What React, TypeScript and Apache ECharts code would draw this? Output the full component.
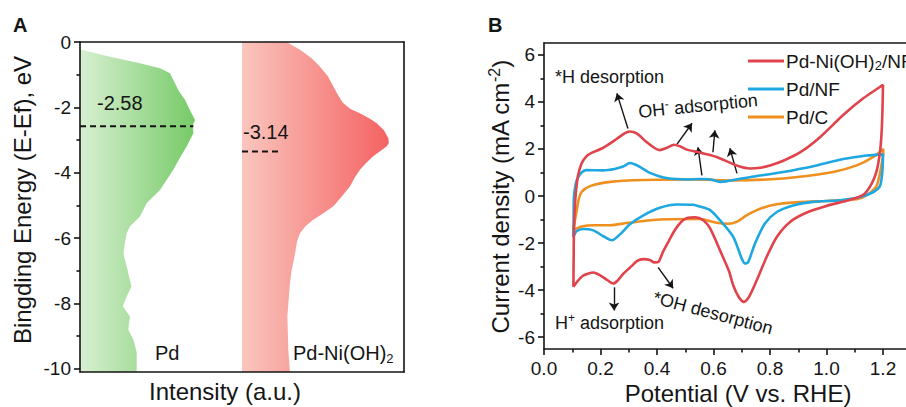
import React, { useEffect, useRef } from 'react';
import * as echarts from 'echarts';

const FONT = '"Liberation Sans", Arial, Helvetica, sans-serif';
const INK = '#151515';

// ---------- Panel A: DOS-like shapes (intensity a.u. vs binding energy eV) ----------
const dosTicks = [0, -2, -4, -6, -8, -10];
const dosMinorTicks = [-1, -3, -5, -7, -9];

const pdEnergy = [-0.21, -0.24, -0.45, -0.63, -0.8, -0.96, -1.16, -1.5, -1.77, -2.1, -2.39, -2.55, -2.79, -3.2, -3.55, -3.91, -4.53, -4.93, -5.34, -5.65, -5.85, -6.2, -6.46, -6.87, -7.2, -7.48, -7.79, -8.09, -8.4, -8.81, -9.11, -9.5, -10.1];
const pdIntensity = [0, 0.5, 9.2, 17.5, 24.7, 27.8, 28.8, 30.5, 32.4, 34, 35.5, 34.8, 35, 32.9, 30.8, 28.8, 24.7, 20.6, 18.5, 15.4, 14.4, 13.8, 13.4, 14.4, 15.2, 15.9, 14.4, 13.2, 15.4, 14.9, 16.5, 17.5, 17.5];
const pdBase = 0;

const pdniEnergy = [0, -0.1, -0.24, -0.5, -0.75, -1.05, -1.36, -1.65, -1.87, -2.05, -2.18, -2.35, -2.49, -2.7, -2.95, -3.1, -3.2, -3.35, -3.5, -3.7, -3.91, -4.15, -4.42, -4.75, -5.03, -5.25, -5.44, -5.65, -5.85, -6.1, -6.46, -7.0, -7.38, -8.4, -9.42, -10.1];
const pdniIntensity = [63.8, 65.5, 67.9, 71.5, 74, 76.5, 78.2, 79.8, 81.2, 83.5, 86.4, 89.5, 91.6, 93.8, 95.2, 95.3, 94.6, 92.5, 90.5, 88.3, 86.4, 84.8, 83.3, 80.6, 78.2, 75, 72, 69.5, 67.9, 67, 66.4, 65.3, 64.8, 64, 64.3, 64.8];
const pdniBase = 50;

const pdCenterLine: [number, number][] = [[0, -2.58], [35, -2.58]];
const pdniCenterLine: [number, number][] = [[50, -3.35], [62, -3.35]];
const pdCenterLabel = '-2.58';
const pdniCenterLabel = '-3.14';

// ---------- Panel B: CV curves (potential V vs RHE, current density mA cm-2) ----------
const potentialTicks = [0, 0.2, 0.4, 0.6, 0.8, 1.0, 1.2];
const potentialMinorTicks = [0.1, 0.3, 0.5, 0.7, 0.9, 1.1];
const currentTicks = [-6, -4, -2, 0, 2, 4, 6];
const currentMinorTicks = [-5, -3, -1, 1, 3, 5];

const seriesNames = ['Pd-Ni(OH)2/NF', 'Pd/NF', 'Pd/C'];

const pdNiOH2NF: [number, number][] = [
  [0.104, -3.86], [0.105, -2.6], [0.106, -1.46], [0.11, -0.3], [0.115, 0.4], [0.121, 0.9], [0.133, 1.38], [0.15, 1.68], [0.17, 1.84], [0.21, 2.05],
  [0.257, 2.42], [0.285, 2.66], [0.303, 2.74], [0.328, 2.66], [0.363, 2.29], [0.39, 2.05], [0.41, 1.95], [0.435, 2.05], [0.46, 2.18], [0.48, 2.12],
  [0.505, 1.97], [0.552, 1.85], [0.611, 1.66], [0.652, 1.45], [0.69, 1.26], [0.729, 1.17], [0.765, 1.2], [0.8, 1.3], [0.847, 1.5], [0.906, 1.85],
  [0.977, 2.5], [1.06, 3.45], [1.13, 4.15], [1.185, 4.6], [1.2, 4.72], [1.198, 3.6], [1.195, 2.7], [1.19, 1.94], [1.178, 1.09], [1.16, 0.53],
  [1.13, 0.05], [1.071, -0.2], [1.0, -0.42], [0.93, -0.7], [0.871, -1.1], [0.824, -1.74], [0.788, -2.59], [0.753, -3.58], [0.725, -4.3], [0.708, -4.5],
  [0.69, -4.3], [0.67, -3.8], [0.655, -3.2], [0.623, -2.31], [0.588, -1.38], [0.564, -1.03], [0.535, -0.9], [0.51, -0.92], [0.493, -1.02], [0.475, -1.25],
  [0.458, -1.55], [0.44, -1.95], [0.422, -2.35], [0.405, -2.8], [0.39, -2.82], [0.375, -2.72], [0.352, -2.68], [0.33, -2.76], [0.31, -2.98], [0.281, -3.3],
  [0.26, -3.6], [0.245, -3.72], [0.225, -3.58], [0.2, -3.38], [0.175, -3.25], [0.155, -3.3], [0.139, -3.38], [0.12, -3.6], [0.104, -3.86],
];

const pdNF: [number, number][] = [
  [0.104, -1.74], [0.105, -0.8], [0.106, -0.04], [0.112, 0.5], [0.121, 0.8], [0.135, 1.02], [0.15, 1.1], [0.21, 1.09], [0.25, 1.15], [0.28, 1.25],
  [0.304, 1.4], [0.325, 1.33], [0.345, 1.2], [0.375, 0.98], [0.422, 0.79], [0.47, 0.72], [0.505, 0.7], [0.552, 0.72], [0.59, 0.7], [0.623, 0.6],
  [0.645, 0.62], [0.67, 0.68], [0.729, 0.8], [0.847, 1.02], [0.965, 1.3], [1.06, 1.57], [1.142, 1.72], [1.2, 1.77], [1.198, 1.09], [1.19, 0.45],
  [1.166, 0.17], [1.119, -0.04], [1.048, -0.18], [0.953, -0.25], [0.882, -0.4], [0.824, -0.68], [0.782, -1.17], [0.747, -2.02], [0.723, -2.8], [0.712, -2.87],
  [0.7, -2.66], [0.67, -1.74], [0.623, -1.03], [0.588, -0.6], [0.552, -0.45], [0.529, -0.37], [0.47, -0.36], [0.41, -0.5], [0.352, -0.82], [0.304, -1.2],
  [0.269, -1.63], [0.24, -1.88], [0.21, -1.71], [0.175, -1.46], [0.139, -1.4], [0.115, -1.5], [0.104, -1.74],
];

const pdC: [number, number][] = [
  [0.104, -1.45], [0.11, -1.0], [0.116, -0.6], [0.122, -0.18], [0.133, 0.17], [0.163, 0.42], [0.234, 0.6], [0.352, 0.68], [0.529, 0.7], [0.67, 0.66],
  [0.788, 0.7], [0.906, 0.82], [1.024, 1.02], [1.107, 1.3], [1.166, 1.66], [1.201, 2.0], [1.2, 1.7], [1.178, 0.45], [1.142, 0.03], [1.107, -0.14],
  [1.0, -0.21], [0.906, -0.26], [0.824, -0.35], [0.765, -0.54], [0.717, -0.82], [0.682, -1.1], [0.652, -1.18], [0.611, -1.14], [0.552, -0.98], [0.41, -1.0],
  [0.293, -1.15], [0.234, -1.24], [0.175, -1.24], [0.133, -1.3], [0.104, -1.45],
];

// annotation arrows (start -> head) in data coordinates of panel B
const annotationArrows: [[number, number], [number, number]][] = [
  [[0.297, 2.87], [0.258, 4.36]],
  [[0.471, 2.2], [0.524, 3.09]],
  [[0.598, 1.86], [0.605, 2.79]],
  [[0.559, 0.88], [0.545, 2.07]],
  [[0.683, 0.96], [0.658, 2.03]],
  [[0.248, -3.88], [0.248, -4.86]],
  [[0.404, -3.03], [0.457, -3.92]],
];

const colors = { red: '#e0434b', blue: '#1ea7e1', orange: '#ee8f1e' };

function areaSeries(base: number, xs: number[], ys: number[], c0: string, c1: string) {
  return {
    type: 'custom',
    xAxisIndex: 0,
    yAxisIndex: 0,
    z: 1,
    silent: true,
    data: [[base, ys[0]]],
    renderItem: (_params: any, api: any) => {
      const pts: number[][] = [api.coord([base, ys[0]])];
      for (let i = 0; i < xs.length; i++) pts.push(api.coord([xs[i], ys[i]]));
      pts.push(api.coord([base, ys[ys.length - 1]]));
      return {
        type: 'polygon',
        shape: { points: pts },
        style: {
          fill: new echarts.graphic.LinearGradient(0, 0, 1, 0, [
            { offset: 0, color: c0 },
            { offset: 1, color: c1 },
          ]),
        },
      };
    },
  };
}

const axisLineStyle = { color: INK, width: 1.6 };
const labelStyle = { fontSize: 19, fontFamily: FONT, color: INK };

function buildOption() {
  const text = (x: number, y: number, t: string, size: number, extra: any = {}) => ({
    type: 'text',
    x,
    y,
    z: 50,
    silent: true,
    rotation: extra.rotation || 0,
    style: {
      text: t,
      fontSize: size,
      fontFamily: FONT,
      fontWeight: extra.bold ? 'bold' : 'normal',
      fill: INK,
      align: extra.align || 'left',
      verticalAlign: 'middle',
      lineHeight: size + 4,
      rich: {
        sup: { fontSize: Math.round(size * 0.65), fontFamily: FONT, fill: INK, lineHeight: 10, verticalAlign: 'top' },
        sub: { fontSize: Math.round(size * 0.65), fontFamily: FONT, fill: INK, lineHeight: 10, verticalAlign: 'bottom' },
      },
    },
  });

  return {
    animation: false,
    backgroundColor: '#ffffff',
    grid: [
      { left: 80, top: 42, width: 324, height: 330 },
      { left: 544, top: 43, width: 367.25, height: 306 },
    ],
    xAxis: [
      { gridIndex: 0, type: 'value', min: 0, max: 100, z: 5, axisLine: { onZero: false, lineStyle: axisLineStyle }, axisTick: { show: false }, axisLabel: { show: false }, splitLine: { show: false } },
      { gridIndex: 0, type: 'value', position: 'top', min: 0, max: 100, z: 5, axisLine: { onZero: false, lineStyle: axisLineStyle }, axisTick: { show: false }, axisLabel: { show: false }, splitLine: { show: false } },
      {
        gridIndex: 1, type: 'value', position: 'bottom', min: 0, max: 1.3, z: 5,
        axisLine: { onZero: false, lineStyle: axisLineStyle },
        axisTick: { show: true, customValues: potentialTicks, length: 6, lineStyle: axisLineStyle },
        axisLabel: { show: true, customValues: potentialTicks, margin: 10, formatter: (v: number) => v.toFixed(1), ...labelStyle },
        splitLine: { show: false },
      },
      {
        gridIndex: 1, type: 'value', position: 'bottom', offset: 0, min: 0, max: 1.3, z: 5,
        axisLine: { show: false, onZero: false },
        axisTick: { show: true, customValues: potentialMinorTicks, length: 3.5, lineStyle: axisLineStyle },
        axisLabel: { show: false },
        splitLine: { show: false },
      },
      { gridIndex: 1, type: 'value', position: 'top', min: 0, max: 1.3, z: 5, axisLine: { onZero: false, lineStyle: axisLineStyle }, axisTick: { show: false }, axisLabel: { show: false }, splitLine: { show: false } },
    ],
    yAxis: [
      {
        gridIndex: 0, type: 'value', position: 'left', min: -10.1, max: 0, z: 5,
        axisLine: { onZero: false, lineStyle: axisLineStyle },
        axisTick: { show: true, customValues: dosTicks, length: 6, lineStyle: axisLineStyle },
        axisLabel: { show: true, customValues: dosTicks, margin: 9, ...labelStyle },
        splitLine: { show: false },
      },
      {
        gridIndex: 0, type: 'value', position: 'left', offset: 0, min: -10.1, max: 0, z: 5,
        axisLine: { show: false, onZero: false },
        axisTick: { show: true, customValues: dosMinorTicks, length: 3.5, lineStyle: axisLineStyle },
        axisLabel: { show: false },
        splitLine: { show: false },
      },
      { gridIndex: 0, type: 'value', position: 'right', min: -10.1, max: 0, z: 5, axisLine: { onZero: false, lineStyle: axisLineStyle }, axisTick: { show: false }, axisLabel: { show: false }, splitLine: { show: false } },
      {
        gridIndex: 1, type: 'value', position: 'left', min: -6.5, max: 6.5, z: 5,
        axisLine: { onZero: false, lineStyle: axisLineStyle },
        axisTick: { show: true, customValues: currentTicks, length: 6, lineStyle: axisLineStyle },
        axisLabel: { show: true, customValues: currentTicks, margin: 9, ...labelStyle },
        splitLine: { show: false },
      },
      {
        gridIndex: 1, type: 'value', position: 'left', offset: 0, min: -6.5, max: 6.5, z: 5,
        axisLine: { show: false, onZero: false },
        axisTick: { show: true, customValues: currentMinorTicks, length: 3.5, lineStyle: axisLineStyle },
        axisLabel: { show: false },
        splitLine: { show: false },
      },
    ],
    legend: {
      data: seriesNames,
      orient: 'vertical',
      left: 743,
      top: 45,
      icon: 'rect',
      itemWidth: 36,
      itemHeight: 3,
      itemGap: 6,
      selectedMode: false,
      formatter: (n: string) => (n === 'Pd-Ni(OH)2/NF' ? 'Pd-Ni(OH){sub|2}/NF' : n),
      textStyle: {
        fontSize: 19,
        fontFamily: FONT,
        color: INK,
        lineHeight: 22,
        padding: [0, 0, 0, -3],
        rich: { sub: { fontSize: 13, fontFamily: FONT, color: INK, lineHeight: 12, verticalAlign: 'bottom' } },
      },
    },
    series: [
      areaSeries(pdBase, pdIntensity, pdEnergy, '#d8f0d2', '#76ca67'),
      areaSeries(pdniBase, pdniIntensity, pdniEnergy, '#fac6be', '#f46262'),
      {
        type: 'line', xAxisIndex: 0, yAxisIndex: 0, z: 3, silent: true, symbol: 'none',
        data: pdCenterLine, lineStyle: { color: INK, width: 2, type: [6, 4] },
      },
      {
        type: 'line', xAxisIndex: 0, yAxisIndex: 0, z: 3, silent: true, symbol: 'none',
        data: pdniCenterLine, lineStyle: { color: INK, width: 2, type: [6, 4] },
      },
      {
        name: 'Pd/C', type: 'line', xAxisIndex: 2, yAxisIndex: 3, symbol: 'none', smooth: 0.25, z: 3,
        color: colors.orange, lineStyle: { color: colors.orange, width: 2.6 }, data: pdC,
      },
      {
        name: 'Pd/NF', type: 'line', xAxisIndex: 2, yAxisIndex: 3, symbol: 'none', smooth: 0.25, z: 4,
        color: colors.blue, lineStyle: { color: colors.blue, width: 2.6 }, data: pdNF,
      },
      {
        name: 'Pd-Ni(OH)2/NF', type: 'line', xAxisIndex: 2, yAxisIndex: 3, symbol: 'none', smooth: 0.25, z: 5,
        color: colors.red, lineStyle: { color: colors.red, width: 2.6 }, data: pdNiOH2NF,
        markLine: {
          silent: true,
          symbol: ['none', 'arrow'],
          symbolSize: 8,
          label: { show: false },
          lineStyle: { color: INK, width: 1.4, type: 'solid' },
          data: annotationArrows.map(([s, e]) => [{ coord: s }, { coord: e }]),
        },
      },
    ],
    graphic: [
      text(13, 25, 'A', 20, { bold: true }),
      text(488, 25, 'B', 20, { bold: true }),
      text(22, 200, 'Bingding Energy (E-Ef), eV', 24, { rotation: Math.PI / 2, align: 'center' }),
      text(225, 391, 'Intensity (a.u.)', 24, { align: 'center' }),
      text(97, 103, pdCenterLabel, 20),
      text(243, 132, pdniCenterLabel, 20),
      text(155, 353, 'Pd', 20),
      text(293, 353, 'Pd-Ni(OH){sub|2}', 20),
      text(500, 197, 'Current density (mA cm{sup|-2})', 24, { rotation: Math.PI / 2, align: 'center' }),
      text(738, 393, 'Potential (V vs. RHE)', 24, { align: 'center' }),
      text(555, 77, '*H desorption', 18),
      text(698, 106, 'OH{sup|-} adsorption', 18, { rotation: 0.1, align: 'center' }),
      text(555, 323, 'H{sup|+} adsorption', 18),
      text(713, 313, '*OH desorption', 18, { rotation: -0.26, align: 'center' }),
    ],
  };
}

export default function App() {
  const ref = useRef<HTMLDivElement>(null);
  useEffect(() => {
    if (!ref.current) return;
    const chart = echarts.init(ref.current, null, { renderer: 'svg' });
    chart.setOption(buildOption() as any);
    return () => chart.dispose();
  }, []);
  return (
    <div style={{ position: 'fixed', left: 0, top: 0, width: 906, height: 407, overflow: 'hidden', background: '#fff' }}>
      <div ref={ref} style={{ width: 930, height: 407 }} />
    </div>
  );
}
